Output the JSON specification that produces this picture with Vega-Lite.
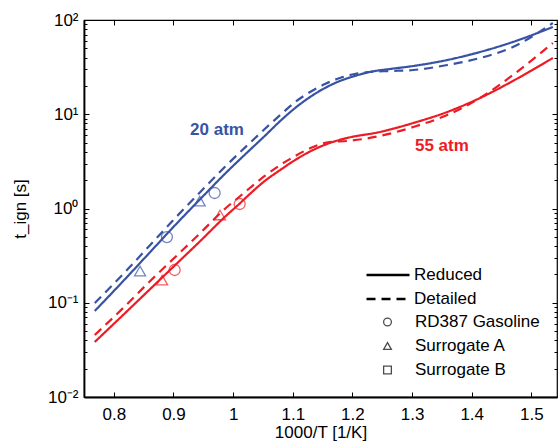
{
  "$schema": "https://vega.github.io/schema/vega-lite/v6.json",
  "width": 473,
  "height": 377,
  "autosize": "none",
  "padding": {"left": 84, "top": 20, "right": 3, "bottom": 46},
  "config": {
    "font": "Liberation Sans",
    "view": {"stroke": "black", "strokeWidth": 1.2},
    "axis": {"grid": false, "domainColor": "black", "tickColor": "black", "labelColor": "black", "titleColor": "black", "labelFont": "Liberation Sans", "titleFont": "Liberation Sans", "titleFontWeight": "normal", "tickWidth": 1},
    "legend": {"labelFont": "Liberation Sans", "labelFontSize": 17, "labelColor": "black", "padding": 0}
  },
  "datasets": {
    "curves": [
      {"x": 0.768, "t": 0.0817, "p": "20 atm", "m": "Reduced"},
      {"x": 0.819, "t": 0.1786, "p": "20 atm", "m": "Reduced"},
      {"x": 0.861, "t": 0.3455, "p": "20 atm", "m": "Reduced"},
      {"x": 0.903, "t": 0.668, "p": "20 atm", "m": "Reduced"},
      {"x": 0.945, "t": 1.261, "p": "20 atm", "m": "Reduced"},
      {"x": 0.986, "t": 2.323, "p": "20 atm", "m": "Reduced"},
      {"x": 1.028, "t": 4.176, "p": "20 atm", "m": "Reduced"},
      {"x": 1.053, "t": 5.878, "p": "20 atm", "m": "Reduced"},
      {"x": 1.079, "t": 8.48, "p": "20 atm", "m": "Reduced"},
      {"x": 1.104, "t": 11.65, "p": "20 atm", "m": "Reduced"},
      {"x": 1.129, "t": 15.24, "p": "20 atm", "m": "Reduced"},
      {"x": 1.154, "t": 18.99, "p": "20 atm", "m": "Reduced"},
      {"x": 1.179, "t": 22.53, "p": "20 atm", "m": "Reduced"},
      {"x": 1.204, "t": 25.46, "p": "20 atm", "m": "Reduced"},
      {"x": 1.229, "t": 28.08, "p": "20 atm", "m": "Reduced"},
      {"x": 1.263, "t": 30.21, "p": "20 atm", "m": "Reduced"},
      {"x": 1.302, "t": 32.51, "p": "20 atm", "m": "Reduced"},
      {"x": 1.359, "t": 37.63, "p": "20 atm", "m": "Reduced"},
      {"x": 1.414, "t": 45.77, "p": "20 atm", "m": "Reduced"},
      {"x": 1.469, "t": 58.43, "p": "20 atm", "m": "Reduced"},
      {"x": 1.536, "t": 84.26, "p": "20 atm", "m": "Reduced"},

      {"x": 0.768, "t": 0.0994, "p": "20 atm", "m": "Detailed"},
      {"x": 0.819, "t": 0.212, "p": "20 atm", "m": "Detailed"},
      {"x": 0.861, "t": 0.41, "p": "20 atm", "m": "Detailed"},
      {"x": 0.903, "t": 0.793, "p": "20 atm", "m": "Detailed"},
      {"x": 0.945, "t": 1.496, "p": "20 atm", "m": "Detailed"},
      {"x": 0.986, "t": 2.756, "p": "20 atm", "m": "Detailed"},
      {"x": 1.028, "t": 4.955, "p": "20 atm", "m": "Detailed"},
      {"x": 1.053, "t": 6.975, "p": "20 atm", "m": "Detailed"},
      {"x": 1.079, "t": 9.82, "p": "20 atm", "m": "Detailed"},
      {"x": 1.104, "t": 13.49, "p": "20 atm", "m": "Detailed"},
      {"x": 1.129, "t": 17.22, "p": "20 atm", "m": "Detailed"},
      {"x": 1.154, "t": 20.94, "p": "20 atm", "m": "Detailed"},
      {"x": 1.179, "t": 24.25, "p": "20 atm", "m": "Detailed"},
      {"x": 1.204, "t": 26.73, "p": "20 atm", "m": "Detailed"},
      {"x": 1.229, "t": 28.08, "p": "20 atm", "m": "Detailed"},
      {"x": 1.263, "t": 28.77, "p": "20 atm", "m": "Detailed"},
      {"x": 1.302, "t": 29.48, "p": "20 atm", "m": "Detailed"},
      {"x": 1.359, "t": 33.31, "p": "20 atm", "m": "Detailed"},
      {"x": 1.414, "t": 39.53, "p": "20 atm", "m": "Detailed"},
      {"x": 1.469, "t": 51.7, "p": "20 atm", "m": "Detailed"},
      {"x": 1.536, "t": 92.9, "p": "20 atm", "m": "Detailed"},

      {"x": 0.768, "t": 0.03835, "p": "55 atm", "m": "Reduced"},
      {"x": 0.819, "t": 0.0778, "p": "55 atm", "m": "Reduced"},
      {"x": 0.861, "t": 0.1399, "p": "55 atm", "m": "Reduced"},
      {"x": 0.903, "t": 0.2515, "p": "55 atm", "m": "Reduced"},
      {"x": 0.945, "t": 0.4519, "p": "55 atm", "m": "Reduced"},
      {"x": 0.986, "t": 0.8124, "p": "55 atm", "m": "Reduced"},
      {"x": 1.012, "t": 1.144, "p": "55 atm", "m": "Reduced"},
      {"x": 1.028, "t": 1.425, "p": "55 atm", "m": "Reduced"},
      {"x": 1.053, "t": 1.958, "p": "55 atm", "m": "Reduced"},
      {"x": 1.079, "t": 2.562, "p": "55 atm", "m": "Reduced"},
      {"x": 1.104, "t": 3.27, "p": "55 atm", "m": "Reduced"},
      {"x": 1.134, "t": 4.176, "p": "55 atm", "m": "Reduced"},
      {"x": 1.162, "t": 4.955, "p": "55 atm", "m": "Reduced"},
      {"x": 1.191, "t": 5.598, "p": "55 atm", "m": "Reduced"},
      {"x": 1.246, "t": 6.481, "p": "55 atm", "m": "Reduced"},
      {"x": 1.302, "t": 8.075, "p": "55 atm", "m": "Reduced"},
      {"x": 1.359, "t": 10.57, "p": "55 atm", "m": "Reduced"},
      {"x": 1.414, "t": 14.88, "p": "55 atm", "m": "Reduced"},
      {"x": 1.469, "t": 22.53, "p": "55 atm", "m": "Reduced"},
      {"x": 1.536, "t": 39.53, "p": "55 atm", "m": "Reduced"},

      {"x": 0.768, "t": 0.0455, "p": "55 atm", "m": "Detailed"},
      {"x": 0.819, "t": 0.0923, "p": "55 atm", "m": "Detailed"},
      {"x": 0.861, "t": 0.1701, "p": "55 atm", "m": "Detailed"},
      {"x": 0.903, "t": 0.3058, "p": "55 atm", "m": "Detailed"},
      {"x": 0.945, "t": 0.5497, "p": "55 atm", "m": "Detailed"},
      {"x": 0.986, "t": 0.988, "p": "55 atm", "m": "Detailed"},
      {"x": 1.012, "t": 1.357, "p": "55 atm", "m": "Detailed"},
      {"x": 1.028, "t": 1.65, "p": "55 atm", "m": "Detailed"},
      {"x": 1.053, "t": 2.213, "p": "55 atm", "m": "Detailed"},
      {"x": 1.079, "t": 2.894, "p": "55 atm", "m": "Detailed"},
      {"x": 1.104, "t": 3.606, "p": "55 atm", "m": "Detailed"},
      {"x": 1.134, "t": 4.492, "p": "55 atm", "m": "Detailed"},
      {"x": 1.162, "t": 5.078, "p": "55 atm", "m": "Detailed"},
      {"x": 1.191, "t": 5.204, "p": "55 atm", "m": "Detailed"},
      {"x": 1.246, "t": 5.878, "p": "55 atm", "m": "Detailed"},
      {"x": 1.302, "t": 7.322, "p": "55 atm", "m": "Detailed"},
      {"x": 1.359, "t": 9.82, "p": "55 atm", "m": "Detailed"},
      {"x": 1.414, "t": 14.88, "p": "55 atm", "m": "Detailed"},
      {"x": 1.469, "t": 26.09, "p": "55 atm", "m": "Detailed"},
      {"x": 1.536, "t": 57.0, "p": "55 atm", "m": "Detailed"}
    ],
    "points": [
      {"x": 0.889, "t": 0.498, "p": "20 atm", "fuel": "RD387 Gasoline"},
      {"x": 0.969, "t": 1.46, "p": "20 atm", "fuel": "RD387 Gasoline"},
      {"x": 0.844, "t": 0.217, "p": "20 atm", "fuel": "Surrogate A"},
      {"x": 0.944, "t": 1.2, "p": "20 atm", "fuel": "Surrogate A"},
      {"x": 0.902, "t": 0.2226, "p": "55 atm", "fuel": "RD387 Gasoline"},
      {"x": 1.011, "t": 1.116, "p": "55 atm", "fuel": "RD387 Gasoline"},
      {"x": 0.881, "t": 0.174, "p": "55 atm", "fuel": "Surrogate A"},
      {"x": 0.978, "t": 0.853, "p": "55 atm", "fuel": "Surrogate A"}
    ],
    "labels": [
      {"x": 0.973, "t": 6.8, "p": "20 atm", "label": "20 atm"},
      {"x": 1.35, "t": 4.6, "p": "55 atm", "label": "55 atm"}
    ]
  },
  "layer": [
    {
      "data": {"name": "curves"},
      "transform": [{"filter": "datum.m === 'Reduced'"}],
      "mark": {"type": "line", "strokeWidth": 2.2, "clip": true, "interpolate": "monotone"},
      "encoding": {
        "x": {"field": "x", "type": "quantitative",
          "scale": {"domain": [0.75, 1.543], "nice": false, "zero": false},
          "axis": {"orient": "bottom", "values": [0.8, 0.9, 1, 1.1, 1.2, 1.3, 1.4, 1.5], "format": "~g", "ticks": false, "labelFontSize": 17, "labelPadding": 9, "domainWidth": 1.8, "title": "1000/T [1/K]", "titleFontSize": 17, "titlePadding": 2}},
        "y": {"field": "t", "type": "quantitative",
          "scale": {"type": "log", "domain": [0.01, 100], "nice": false},
          "axis": {"orient": "left", "values": [0.01, 0.1, 1, 10, 100], "ticks": false, "labelFontSize": 17, "labelPadding": 6, "domainWidth": 1.8,
            "labelExpr": "datum.value >= 50 ? '10²' : datum.value >= 5 ? '10¹' : datum.value >= 0.5 ? '10⁰' : datum.value >= 0.05 ? '10⁻¹' : '10⁻²'",
            "title": "t_ign [s]", "titleFontSize": 17, "titlePadding": 18}},
        "color": {"field": "p", "type": "nominal", "scale": {"domain": ["20 atm", "55 atm"], "range": ["#3953a4", "#ed1c24"]}, "legend": null},
        "strokeDash": {"field": "m", "type": "nominal", "scale": {"domain": ["Reduced", "Detailed"], "range": [[1, 0], [9, 6]]},
          "legend": {"title": null, "orient": "none", "legendX": 281, "legendY": 246.5, "clipHeight": 17, "symbolType": "stroke", "symbolSize": 1849, "symbolStrokeWidth": 2.5, "symbolStrokeColor": "black", "labelOffset": 3, "rowPadding": 6}}
      }
    },
    {
      "data": {"name": "curves"},
      "transform": [{"filter": "datum.m === 'Detailed'"}],
      "mark": {"type": "line", "strokeWidth": 2.2, "clip": true, "interpolate": "monotone"},
      "encoding": {
        "x": {"field": "x", "type": "quantitative", "axis": {"orient": "bottom", "offset": -5, "values": [0.8, 0.9, 1, 1.1, 1.2, 1.3, 1.4, 1.5], "tickSize": 5, "labels": false, "domain": false, "title": null}},
        "y": {"field": "t", "type": "quantitative", "axis": {"orient": "left", "offset": -5, "values": [0.01, 0.1, 1, 10, 100], "tickSize": 5, "labels": false, "domain": false, "title": null}},
        "color": {"field": "p", "type": "nominal"},
        "strokeDash": {"field": "m", "type": "nominal"}
      }
    },
    {
      "data": {"name": "points"},
      "mark": {"type": "point", "filled": false, "size": 121, "strokeWidth": 1.3},
      "encoding": {
        "x": {"field": "x", "type": "quantitative", "axis": {"orient": "top", "offset": -5, "values": [0.8, 0.9, 1, 1.1, 1.2, 1.3, 1.4, 1.5], "tickSize": 5, "labels": false, "domain": false, "title": null}},
        "y": {"field": "t", "type": "quantitative", "axis": {"orient": "right", "offset": -5, "values": [0.01, 0.1, 1, 10, 100], "tickSize": 5, "labels": false, "domain": false, "title": null}},
        "color": {"field": "p", "type": "nominal"},
        "shape": {"field": "fuel", "type": "nominal", "scale": {"domain": ["RD387 Gasoline", "Surrogate A", "Surrogate B"], "range": ["circle", "triangle-up", "square"]},
          "legend": {"title": null, "orient": "none", "legendX": 295, "legendY": 293.5, "clipHeight": 17, "symbolSize": 60, "symbolStrokeColor": "black", "symbolFillColor": "transparent", "symbolStrokeWidth": 1.3, "labelOffset": 19, "rowPadding": 6}}
      }
    },
    {
      "data": {"name": "labels"},
      "transform": [{"filter": "datum.p === '20 atm'"}],
      "mark": {"type": "text", "fontSize": 17, "fontWeight": "bold", "font": "Liberation Sans"},
      "encoding": {
        "x": {"field": "x", "type": "quantitative", "axis": null},
        "y": {"field": "t", "type": "quantitative", "axis": {"orient": "left", "offset": -3, "values": [0.02, 0.03, 0.04, 0.05, 0.06, 0.07, 0.08, 0.09, 0.2, 0.3, 0.4, 0.5, 0.6, 0.7, 0.8, 0.9, 2, 3, 4, 5, 6, 7, 8, 9, 20, 30, 40, 50, 60, 70, 80, 90], "tickSize": 3, "labels": false, "domain": false, "title": null}},
        "text": {"field": "label"},
        "color": {"field": "p", "type": "nominal"}
      }
    },
    {
      "data": {"name": "labels"},
      "transform": [{"filter": "datum.p === '55 atm'"}],
      "mark": {"type": "text", "fontSize": 17, "fontWeight": "bold", "font": "Liberation Sans"},
      "encoding": {
        "x": {"field": "x", "type": "quantitative", "axis": null},
        "y": {"field": "t", "type": "quantitative", "axis": {"orient": "right", "offset": -3, "values": [0.02, 0.03, 0.04, 0.05, 0.06, 0.07, 0.08, 0.09, 0.2, 0.3, 0.4, 0.5, 0.6, 0.7, 0.8, 0.9, 2, 3, 4, 5, 6, 7, 8, 9, 20, 30, 40, 50, 60, 70, 80, 90], "tickSize": 3, "labels": false, "domain": false, "title": null}},
        "text": {"field": "label"},
        "color": {"field": "p", "type": "nominal"}
      }
    }
  ],
  "resolve": {"axis": {"x": "independent", "y": "independent"}}
}
